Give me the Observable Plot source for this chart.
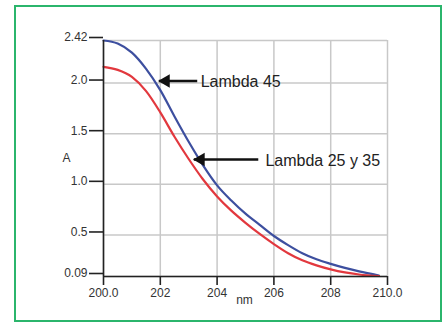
<!DOCTYPE html>
<html>
<head>
<meta charset="utf-8">
<script src="https://cdn.jsdelivr.net/npm/d3@7"></script>
<script src="https://cdn.jsdelivr.net/npm/@observablehq/plot@0.6"></script>
<style>
  html, body { margin: 0; padding: 0; background: #fff; }
  #wrap { position: relative; width: 443px; height: 323px; overflow: hidden; }
  #border { position: absolute; left: 14px; top: 5px; width: 428px; height: 317px;
            box-sizing: border-box; border: 2px solid #2bb56c; pointer-events: none; }
  #wrap svg { position: absolute; left: 0; top: 0; }
</style>
</head>
<body>
<div id="wrap"><div id="border"></div></div>
<script>
// Absorbance spectra, 200–210 nm
const wavelengths = [200, 200.5, 201, 201.5, 202, 202.5, 203, 203.5, 204, 204.5,
                     205, 205.5, 206, 206.5, 207, 207.5, 208, 208.5, 209, 209.7];
const lambda45    = [2.42, 2.39, 2.30, 2.14, 1.93, 1.67, 1.42, 1.19, 0.99, 0.84,
                     0.71, 0.60, 0.49, 0.40, 0.32, 0.26, 0.215, 0.175, 0.14, 0.10];
const lambda2535  = [2.16, 2.13, 2.06, 1.92, 1.71, 1.47, 1.25, 1.05, 0.88, 0.74,
                     0.62, 0.51, 0.41, 0.32, 0.25, 0.20, 0.16, 0.13, 0.11, 0.095];
const seriesNames = ["Lambda 45", "Lambda 25 y 35"];

const xTicks = [200, 202, 204, 206, 208, 210];
const xTickLabels = ["200.0", "202", "204", "206", "208", "210.0"];
const yTicks = [0.09, 0.5, 1.0, 1.5, 2.0, 2.42];
const yTickLabels = ["0.09", "0.5", "1.0", "1.5", "2.0", "2.42"];

// Callout arrows: tip on the curve, tail and label start (data units)
const calloutTipX  = [201.95, 203.18];
const calloutTipA  = [2.02, 1.245];
const calloutTailX = [203.3, 205.45];
const calloutTextX = [203.42, 205.7];

const rows = [
  ...wavelengths.map((nm, i) => ({nm, A: lambda45[i], series: seriesNames[0]})),
  ...wavelengths.map((nm, i) => ({nm, A: lambda2535[i], series: seriesNames[1]}))
];
const callouts = seriesNames.map((label, i) => ({
  label, tipX: calloutTipX[i], A: calloutTipA[i], tailX: calloutTailX[i], textX: calloutTextX[i]
}));

const gridStyle = {stroke: "#c8c8c8", strokeOpacity: 1, strokeWidth: 1.5};

const chart = Plot.plot({
  width: 443,
  height: 323,
  marginLeft: 103,
  marginRight: 56,
  marginTop: 40,
  marginBottom: 47,
  style: {fontFamily: "'Liberation Sans', Arial, sans-serif", fontSize: "12px", color: "#333", background: "transparent"},
  x: {domain: [200, 210]},
  y: {domain: [0.09, 2.42]},
  color: {domain: seriesNames, range: ["#3d4f9f", "#e2383e"]},
  marks: [
    Plot.gridX(xTicks, gridStyle),
    Plot.gridY(yTicks, gridStyle),
    Plot.line(rows, {x: "nm", y: "A", z: "series", stroke: "series", strokeWidth: 2.2, curve: "monotone-x"}),
    Plot.ruleX([200], {stroke: "#222", strokeWidth: 1.6}),
    Plot.ruleY([0.09], {stroke: "#222", strokeWidth: 1.6}),
    Plot.axisY(yTicks, {
      anchor: "left", tickSize: 14, tickPadding: 2, dy: -3, label: null,
      tickFormat: d => yTickLabels[yTicks.indexOf(d)],
      stroke: "#222", strokeWidth: 1.6, fill: "#333", fontSize: 12
    }),
    Plot.axisX(xTicks, {
      anchor: "bottom", tickSize: 9, tickPadding: 3, label: null,
      tickFormat: d => xTickLabels[xTicks.indexOf(d)],
      stroke: "#222", strokeWidth: 1.6, fill: "#333", fontSize: 12
    }),
    Plot.text(["A"], {text: d => d, frameAnchor: "left", dx: -41, fill: "#333", fontSize: 12}),
    Plot.text(["nm"], {text: d => d, frameAnchor: "bottom", dy: 27, dx: -1, fill: "#333", fontSize: 12}),
    Plot.link(callouts, {x1: "tailX", x2: "tipX", y1: "A", y2: "A", stroke: "#111", strokeWidth: 2.6}),
    Plot.dot(callouts, {x: "tipX", y: "A", symbol: "triangle", r: 5, rotate: -90, dx: 7, fill: "#111", stroke: "none"}),
    Plot.text(callouts, {x: "textX", y: "A", text: "label", textAnchor: "start", fontSize: 16, fill: "#222", dy: 1})
  ]
});
document.getElementById("wrap").prepend(chart);
</script>
</body>
</html>
